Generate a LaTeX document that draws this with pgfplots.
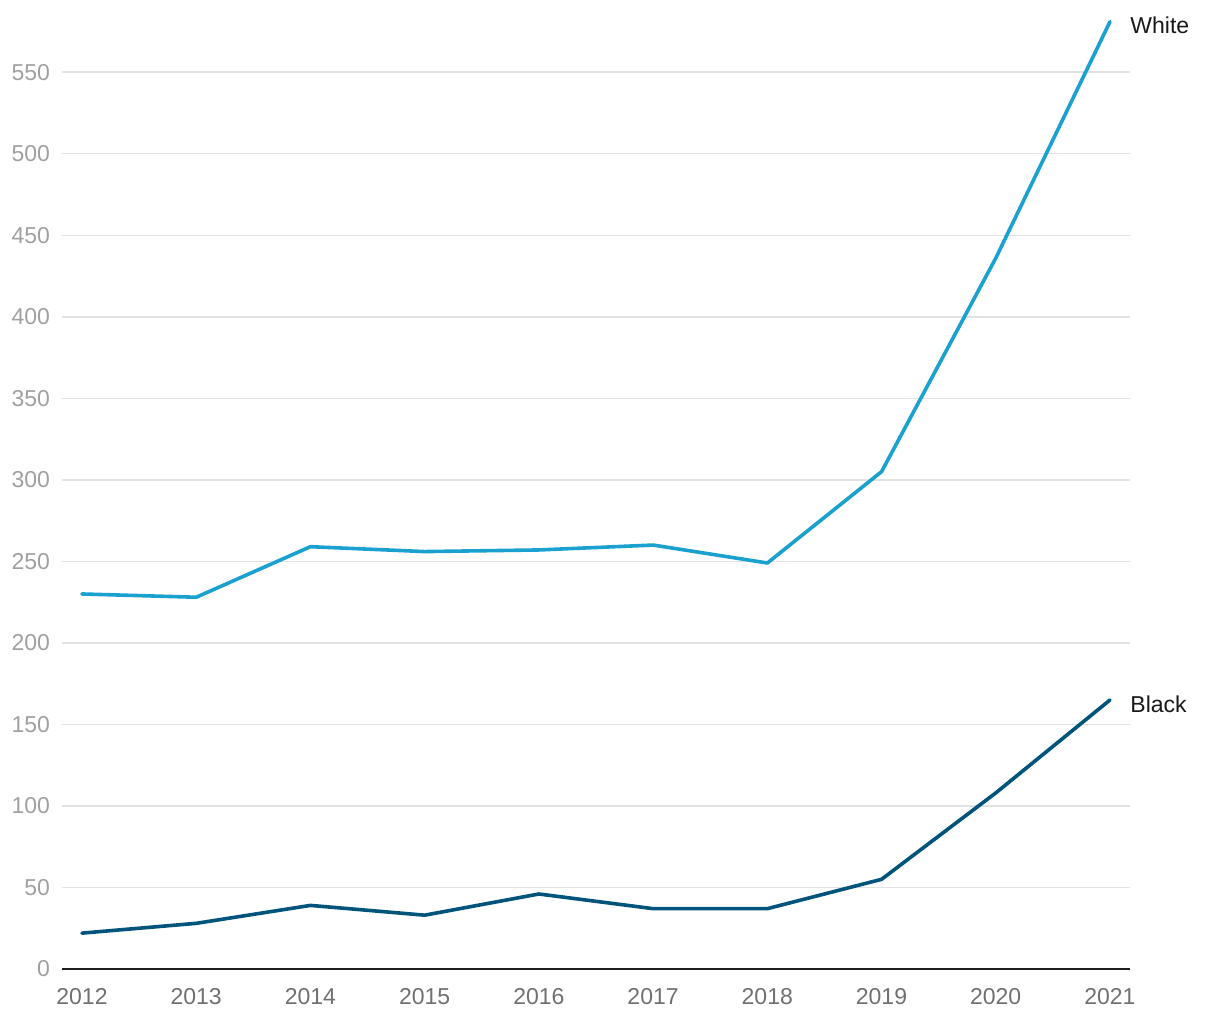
\documentclass[border=0pt]{standalone}
\usepackage{pgfplots}
\pgfplotsset{compat=1.18}
\usepackage{fontspec}
\setmainfont{Liberation Sans}
\definecolor{whiteline}{HTML}{1BA1CF}
\definecolor{blackline}{HTML}{00547C}
\definecolor{ygray}{HTML}{A0A0A0}
\definecolor{xgray}{HTML}{707070}
\definecolor{gridc}{HTML}{E2E2E2}
\begin{document}
\begin{tikzpicture}
\begin{axis}[
  name=ax,
  scale only axis,
  width=534pt, height=481pt,
  xmin=2011.825, xmax=2021.175,
  ymin=0, ymax=590,
  axis x line=bottom,
  axis y line=left,
  x axis line style={draw=black!88, line width=1pt, -},
  y axis line style={draw=none},
  ytick={0,50,...,550},
  xtick={2012,...,2021},
  ymajorgrids,
  grid style={gridc, line width=0.75pt},
  major tick length=0pt,
  tick style={draw=none},
  /pgf/number format/assume math mode=true,
  /pgf/number format/1000 sep={},
  yticklabel style={font=\fontsize{11.5}{13}\selectfont, text=ygray, anchor=east, xshift=-2.5pt},
  xticklabel style={font=\fontsize{11.5}{13}\selectfont, text=xgray, yshift=-6pt},
  clip=false,
]
\addplot[whiteline, line width=1.8pt, line cap=round, line join=round] coordinates {
(2012,230) (2013,228) (2014,259) (2015,256) (2016,257) (2017,260) (2018,249) (2019,305) (2020,436) (2021,581)
} node[pos=1, anchor=west, xshift=6pt, yshift=-2pt, text=black!90, font=\fontsize{11.5}{13}\selectfont] {White};
\addplot[blackline, line width=1.8pt, line cap=round, line join=round] coordinates {
(2012,22) (2013,28) (2014,39) (2015,33) (2016,46) (2017,37) (2018,37) (2019,55) (2020,108) (2021,165)
} node[pos=1, anchor=west, xshift=6pt, yshift=-2pt, text=black!90, font=\fontsize{11.5}{13}\selectfont] {Black};
\end{axis}
\pgfresetboundingbox
\path ([xshift=-31pt,yshift=-25.5pt]ax.south west) rectangle ([xshift=45pt,yshift=3.5pt]ax.north east);
\end{tikzpicture}
\end{document}
